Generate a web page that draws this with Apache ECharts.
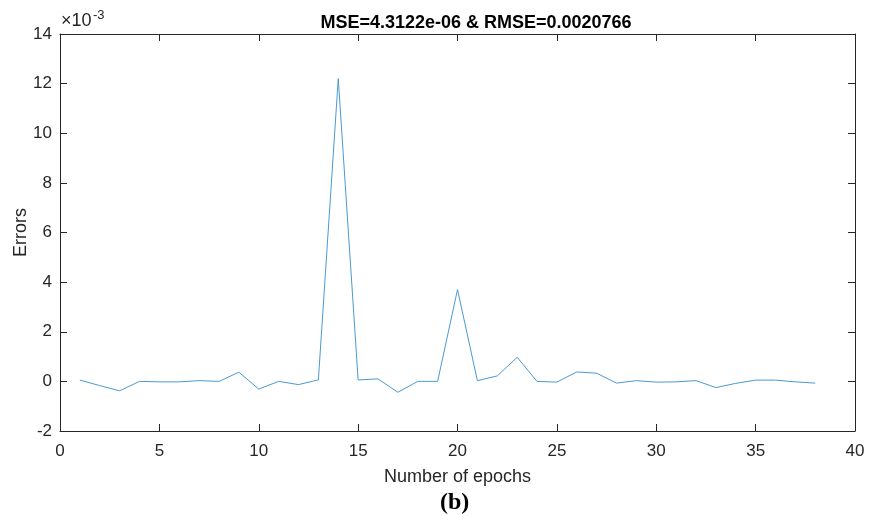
<!DOCTYPE html>
<html>
<head>
<meta charset="utf-8">
<script src="https://cdn.jsdelivr.net/npm/echarts@6/dist/echarts.min.js"></script>
<style>
html, body { margin: 0; padding: 0; background: #fff; }
#container { width: 877px; height: 516px; }
</style>
</head>
<body>
<div id="container"></div>
<script>
// epochs 1..38, errors in units of 1e-3
var epochs = [];
for (var i = 1; i <= 38; i++) epochs.push(i);
var errors = [0.05, -0.17, -0.38, 0.0, -0.02, -0.02, 0.03, 0.0, 0.37, -0.31,
              0.0, -0.13, 0.06, 12.2, 0.06, 0.1, -0.44, 0.0, 0.0, 3.7,
              0.03, 0.22, 0.97, 0.0, -0.03, 0.38, 0.33, -0.07, 0.03, -0.03,
              -0.02, 0.03, -0.25, -0.08, 0.05, 0.05, -0.02, -0.07];
var titleText = 'MSE=4.3122e-06 & RMSE=0.0020766';

var dom = document.getElementById('container');
var myChart = echarts.init(dom, null, { renderer: 'canvas' });

var axisColor = '#262626';
var font = 'Liberation Sans, Arial, sans-serif';

var pts = epochs.map(function (e, i) { return [e, errors[i]]; });

function boxAxis(extra) {
    var base = {
        type: 'value',
        axisLine: { show: true, onZero: false, lineStyle: { color: axisColor, width: 1 } },
        axisTick: { show: true, inside: true, length: 7, lineStyle: { color: axisColor } },
        axisLabel: { fontFamily: font, fontSize: 17, color: axisColor },
        splitLine: { show: false }
    };
    for (var k in extra) base[k] = extra[k];
    return base;
}

var option = {
    animation: false,
    backgroundColor: '#fff',
    title: {
        text: titleText,
        left: 471, top: 9, textAlign: 'center',
        textStyle: { fontFamily: font, fontSize: 18, fontWeight: 'bold', color: '#000' }
    },
    grid: { left: 60, right: 22, top: 34, bottom: 85, containLabel: false, outerBoundsMode: 'none' },
    xAxis: [
        boxAxis({ min: 0, max: 40, interval: 5,
            axisLabel: { fontFamily: font, fontSize: 17, color: axisColor, margin: 12 },
            name: 'Number of epochs', nameLocation: 'middle', nameGap: 37, nameMoveOverlap: false,
            nameTextStyle: { fontFamily: font, fontSize: 18, color: axisColor } }),
        boxAxis({ min: 0, max: 40, interval: 5, position: 'top', axisLabel: { show: false } })
    ],
    yAxis: [
        boxAxis({ min: -2, max: 14, interval: 2,
            name: 'Errors', nameLocation: 'middle', nameGap: 30, nameMoveOverlap: false,
            nameTextStyle: { fontFamily: font, fontSize: 18, color: axisColor } }),
        boxAxis({ min: -2, max: 14, interval: 2, position: 'right', axisLabel: { show: false } })
    ],
    graphic: [{
        type: 'text', left: 61, top: 12,
        style: { text: '×10', fontSize: 18, fontFamily: font, fill: axisColor }
    }, {
        type: 'text', left: 93, top: 9,
        style: { text: '-3', fontSize: 13, fontFamily: font, fill: axisColor }
    }, {
        type: 'text', left: 440, top: 491,
        style: { text: '(b)', font: 'bold 24px "Liberation Serif", "Times New Roman", serif', fill: '#000' }
    }],
    series: [{
        type: 'line',
        xAxisIndex: 0, yAxisIndex: 0,
        data: pts,
        showSymbol: false,
        lineStyle: { color: '#4a9ad2', width: 1 },
        silent: true
    }]
};

myChart.setOption(option);
window.addEventListener('resize', myChart.resize);
</script>
</body>
</html>
